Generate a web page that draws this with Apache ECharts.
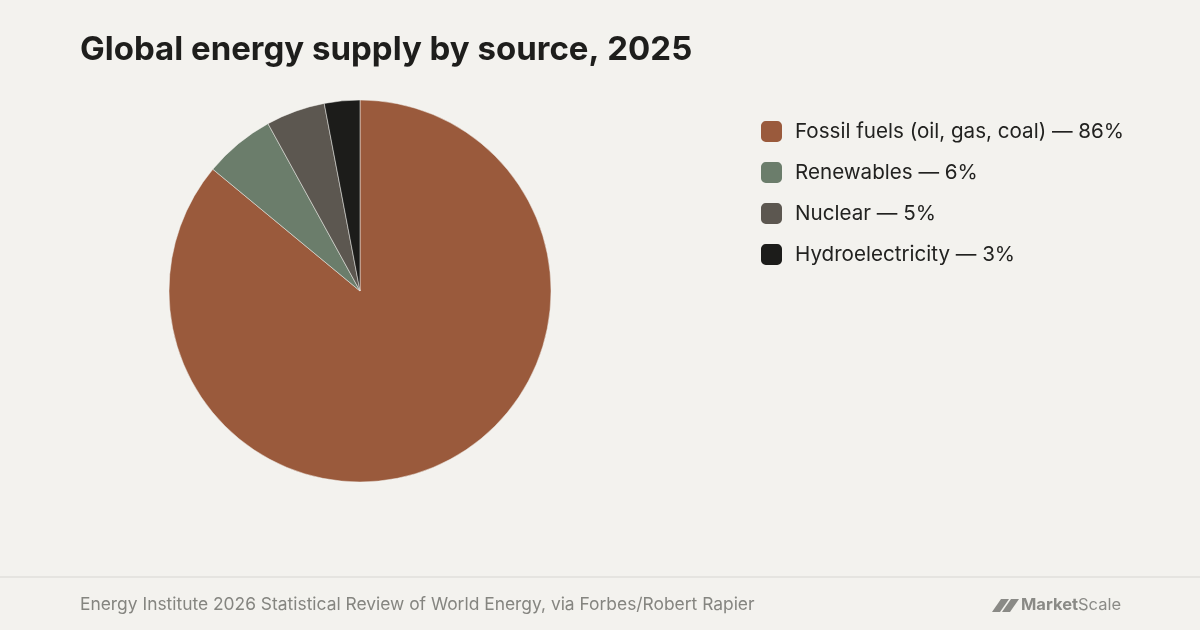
<!DOCTYPE html>
<html>
<head>
<meta charset="utf-8">
<script src="https://cdn.jsdelivr.net/npm/echarts@6/dist/echarts.min.js"></script>
<style>
  html, body { margin: 0; padding: 0; background: #f3f2ee; }
  #chart { width: 1200px; height: 630px; }
</style>
</head>
<body>
<div id="chart"></div>
<script>
// data
var sources = ['Fossil fuels (oil, gas, coal)', 'Renewables', 'Nuclear', 'Hydroelectricity'];
var shares = [86, 6, 5, 3];
var colors = ['#9a5a3c', '#6b7d6b', '#5c5750', '#1c1c1a'];

var pieData = [];
for (var i = 0; i < sources.length; i++) {
    pieData.push({ name: sources[i], value: shares[i], itemStyle: { color: colors[i] } });
}

var chart = echarts.init(document.getElementById('chart'));
chart.setOption({
    backgroundColor: '#f3f2ee',
    animation: false,
    textStyle: { fontFamily: 'Inter' },
    title: {
        text: 'Global energy supply by source, 2025',
        left: 75,
        top: 29,
        textStyle: { fontFamily: 'Inter', fontWeight: 700, fontSize: 33, color: '#1e1e1c' }
    },
    legend: {
        orient: 'vertical',
        left: 754,
        top: 114,
        itemWidth: 23,
        itemHeight: 23,
        itemGap: 16,
        icon: 'roundRect',
        selectedMode: false,
        textStyle: { fontFamily: 'Inter', fontSize: 20.6, color: '#222220', padding: [0, 0, 0, 7] },
        formatter: function (name) {
            var idx = sources.indexOf(name);
            return name + ' — ' + shares[idx] + '%';
        }
    },
    series: [
        {
            type: 'pie',
            center: [360, 291],
            radius: 191,
            startAngle: 90,
            clockwise: true,
            label: { show: false },
            labelLine: { show: false },
            emphasis: { disabled: true },
            itemStyle: { borderColor: '#f3f2ee', borderWidth: 0.5 },
            data: pieData
        }
    ],
    graphic: [
        {
            type: 'rect',
            shape: { x: 0, y: 576, width: 1200, height: 2 },
            style: { fill: '#e5e4e0' }
        },
        {
            type: 'text',
            left: 80,
            top: 596,
            style: {
                text: 'Energy Institute 2026 Statistical Review of World Energy, via Forbes/Robert Rapier',
                font: '17.4px Inter',
                fill: '#858580'
            }
        },
        {
            type: 'polygon',
            shape: { points: [[992, 612], [1000, 612], [1009, 599], [1001, 599]] },
            style: { fill: '#8a8a86' }
        },
        {
            type: 'polygon',
            shape: { points: [[1002, 612], [1010, 612], [1019, 599], [1011, 599]] },
            style: { fill: '#8a8a86' }
        },
        {
            type: 'text',
            left: 1021,
            top: 597,
            style: {
                text: '{b|Market}{n|Scale}',
                rich: {
                    b: { font: 'bold 16.5px Inter', fill: '#8a8a86' },
                    n: { font: '16.5px Inter', fill: '#8a8a86' }
                }
            }
        }
    ]
});
</script>
</body>
</html>
